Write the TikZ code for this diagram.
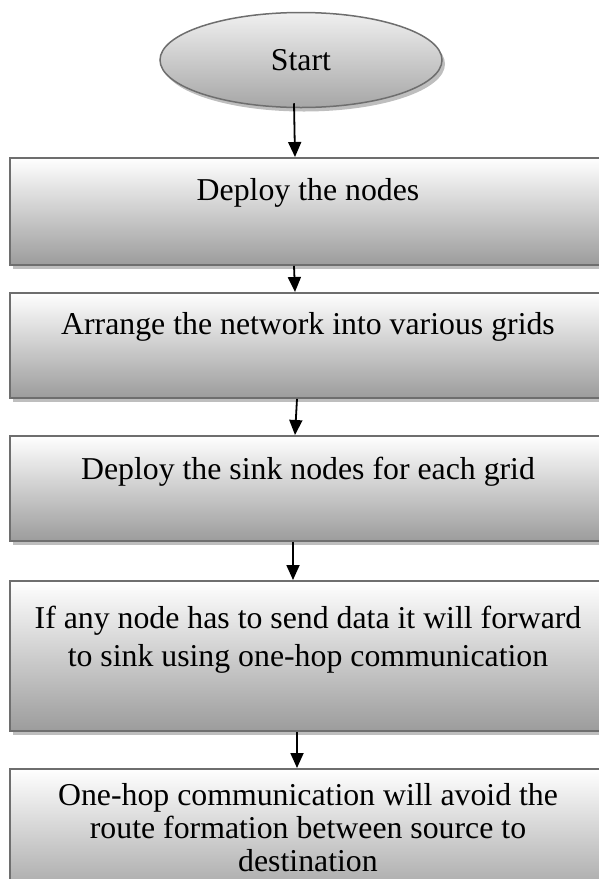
\documentclass[tikz,border=0pt]{standalone}
\usepackage{fontspec}
\setmainfont{Liberation Serif}
\usetikzlibrary{arrows.meta,shadows,shapes.geometric,calc}
\definecolor{bordergray}{HTML}{6E6E6E}
\definecolor{boxbottom}{HTML}{9C9C9C}
\definecolor{shadowgray}{HTML}{BEBEBE}
\definecolor{elltop}{HTML}{F0F0F0}
\definecolor{ellbottom}{HTML}{A6A6A6}
\begin{document}
\begin{tikzpicture}[x=1pt,y=1pt,
  boxst/.style={draw=bordergray, line width=1.8pt, top color=white, bottom color=boxbottom,
    minimum width=596pt, inner sep=0pt, anchor=north,
    drop shadow={shadow xshift=3pt, shadow yshift=-4pt, fill=shadowgray, opacity=1}},
  startst/.style={ellipse, draw=bordergray, line width=1.5pt, top color=elltop, bottom color=ellbottom,
    minimum width=282pt, minimum height=95pt, inner sep=0pt,
    drop shadow={shadow xshift=3pt, shadow yshift=-4pt, fill=shadowgray, opacity=1},
    font=\fontsize{31.8}{37}\selectfont},
  txt/.style={anchor=north, inner sep=0pt, align=center, font=\fontsize{31.8}{37}\selectfont},
  arr/.style={-{Triangle[width=13pt,length=15pt]}, line width=1.8pt, black}
]
\useasboundingbox (0,0) rectangle (598,-879);
\node[startst] (start) at (301,-60) {Start};
\node[boxst, minimum height=107pt] (b1) at (308,-157) {};
\node[boxst, minimum height=105pt] (b2) at (308,-292) {};
\node[boxst, minimum height=105pt] (b3) at (308,-435) {};
\node[boxst, minimum height=150pt] (b4) at (308,-580) {};
\node[boxst, minimum height=140pt] (b5) at (308,-768) {};
\node[txt] (t1) at ($(b1.north)+(0,-21)$) {Deploy the nodes};
\node[txt] (t2) at ($(b2.north)+(0,-20)$) {Arrange the network into various grids};
\node[txt] (t3) at ($(b3.north)+(0,-22)$) {Deploy the sink nodes for each grid};
\node[txt, font=\fontsize{31.8}{38}\selectfont] (t4) at ($(b4.north)+(0,-26)$) {If any node has to send data it will forward\\to sink using one-hop communication};
\node[txt, font=\fontsize{31.8}{33}\selectfont] (t5) at ($(b5.north)+(0,-15)$) {One-hop communication will avoid the\\route formation between source to\\destination};
\draw[arr] ($(start.south)+(-7,5)$) -- ($(b1.north)+(-13,0)$);
\draw[arr] ($(b1.south)+(-14,0)$) -- ($(b2.north)+(-13,0)$);
\draw[arr] ($(b2.south)+(-11,0)$) -- ($(b3.north)+(-13,0)$);
\draw[arr] ($(b3.south)+(-15,0)$) -- ($(b4.north)+(-15,0)$);
\draw[arr] ($(b4.south)+(-11,0)$) -- ($(b5.north)+(-11,0)$);
\end{tikzpicture}
\end{document}
